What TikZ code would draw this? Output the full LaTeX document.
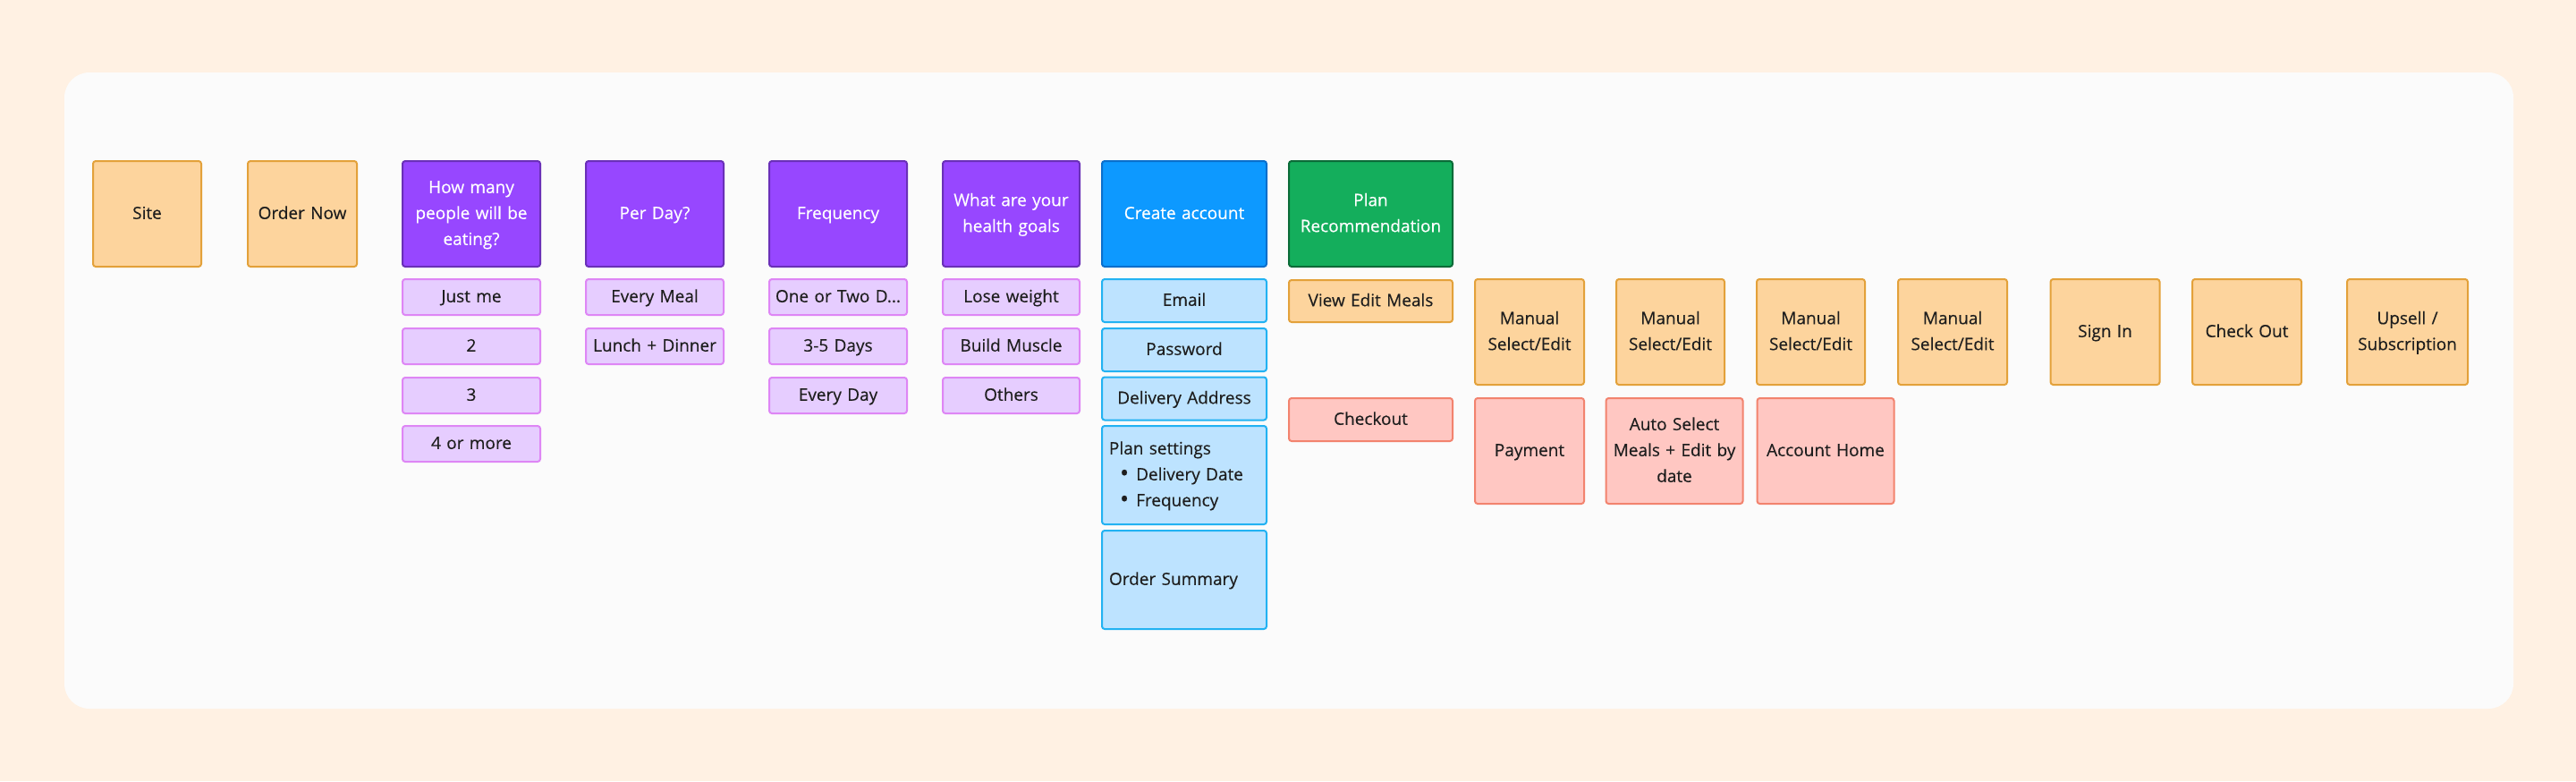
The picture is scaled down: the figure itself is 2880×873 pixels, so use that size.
\documentclass[tikz,border=0pt]{standalone}
\usepackage{fontspec}
\setmainfont{Open Sans}[FakeBold=0.25]
\definecolor{bgc}{HTML}{FFF1E3}
\definecolor{panelc}{HTML}{FBFBFB}
\definecolor{orF}{HTML}{FDD49D}
\definecolor{orD}{HTML}{E3A13A}
\definecolor{puF}{HTML}{9747FF}
\definecolor{puD}{HTML}{6A30B8}
\definecolor{lpF}{HTML}{E6CDFF}
\definecolor{lpD}{HTML}{DE86F5}
\definecolor{blF}{HTML}{0D99FF}
\definecolor{blD}{HTML}{0A6FCC}
\definecolor{lbF}{HTML}{BDE3FF}
\definecolor{lbD}{HTML}{22B2F2}
\definecolor{grF}{HTML}{14AE5C}
\definecolor{grD}{HTML}{0B6B38}
\definecolor{rdF}{HTML}{FFC7C2}
\definecolor{rdD}{HTML}{F2836E}
\definecolor{txt}{HTML}{1E1E1E}
\newcommand{\bigbul}{\hspace*{12pt}\raisebox{-1.2pt}{\fontsize{27}{29}\selectfont\textbullet}\hspace{8pt}}
\tikzset{
  box/.style={rectangle, rounded corners=3pt, line width=2pt, inner sep=2pt,
    align=center, font=\fontsize{19}{29}\selectfont, text=txt,
    execute at begin node={\strut}, execute at end node={\strut}},
  orbox/.style={box, fill=orF, draw=orD},
  pubox/.style={box, fill=puF, draw=puD, text=white},
  lpbox/.style={box, fill=lpF, draw=lpD},
  blbox/.style={box, fill=blF, draw=blD, text=white},
  lbbox/.style={box, fill=lbF, draw=lbD},
  grbox/.style={box, fill=grF, draw=grD, text=white},
  rdbox/.style={box, fill=rdF, draw=rdD},
  sz/.style 2 args={minimum width=#1pt, minimum height=#2pt, text width=#1pt-8pt}
}
\begin{document}
\begin{tikzpicture}[x=1pt,y=-1pt]
\fill[bgc] (0,0) rectangle (2880,873);
\useasboundingbox (0,0) rectangle (2880,873);
\fill[panelc, rounded corners=28pt] (72,81) rectangle (2810,792);

% top row
\node[orbox, sz={121}{118}] (site) at (164.5,239) {Site};
\node[orbox, sz={122}{118}] (ordernow) at (338,239) {Order Now};
\node[pubox, sz={154}{118}] (howmany) at (527,239) {How many\\people will be\\eating?};
\node[pubox, sz={154}{118}] (perday) at (732,239) {Per Day?};
\node[pubox, sz={154}{118}] (freq) at (937,239) {Frequency};
\node[pubox, sz={153}{118}] (health) at (1130.5,239) {What are your\\health goals};
\node[blbox, sz={184}{118}] (create) at (1324,239) {Create account};
\node[grbox, sz={183}{118}] (planrec) at (1532.5,239) {Plan\\Recommendation};

% people
\node[lpbox, sz={154}{40}] (justme) at (527,332) {Just me};
\node[lpbox, sz={154}{40}] (two) at (527,387) {2};
\node[lpbox, sz={154}{40}] (three) at (527,442) {3};
\node[lpbox, sz={154}{40}] (four) at (527,496) {4 or more};

% per day
\node[lpbox, sz={154}{40}] (everymeal) at (732,332) {Every Meal};
\node[lpbox, sz={154}{40}] (lunch) at (732,387) {Lunch + Dinner};

% frequency
\node[lpbox, sz={154}{40}] (onetwo) at (937,332) {One or Two D...};
\node[lpbox, sz={154}{40}] (threefive) at (937,387) {3-5 Days};
\node[lpbox, sz={154}{40}] (everyday) at (937,442) {Every Day};

% health
\node[lpbox, sz={153}{40}] (lose) at (1130.5,332) {Lose weight};
\node[lpbox, sz={153}{40}] (build) at (1130.5,387) {Build Muscle};
\node[lpbox, sz={153}{40}] (others) at (1130.5,442) {Others};

% account
\node[lbbox, sz={184}{48}] (email) at (1324,336) {Email};
\node[lbbox, sz={184}{48}] (password) at (1324,391) {Password};
\node[lbbox, sz={184}{48}] (address) at (1324,445.5) {Delivery Address};
\node[lbbox, sz={184}{110}, align=left, text width=168pt] (plansettings) at (1324,531)
  {Plan settings\\\bigbul Delivery Date\\\bigbul Frequency};
\node[lbbox, sz={184}{110}, align=left, text width=168pt] (summary) at (1324,648) {Order Summary};

% plan recommendation column
\node[orbox, sz={183}{47}] (viewedit) at (1532.5,336.5) {View Edit Meals};
\node[rdbox, sz={183}{48}] (checkout) at (1532.5,469) {Checkout};

% manual row
\node[orbox, sz={122}{118}] (man1) at (1710,371) {Manual\\Select/Edit};
\node[orbox, sz={121}{118}] (man2) at (1867.5,371) {Manual\\Select/Edit};
\node[orbox, sz={121}{118}] (man3) at (2024.5,371) {Manual\\Select/Edit};
\node[orbox, sz={122}{118}] (man4) at (2183,371) {Manual\\Select/Edit};
\node[orbox, sz={122}{118}] (signin) at (2353.5,371) {Sign In};
\node[orbox, sz={122}{118}] (checkout2) at (2512,371) {Check Out};
\node[orbox, sz={135}{118}] (upsell) at (2691.5,371) {Upsell /\\Subscription};

% red row
\node[rdbox, sz={122}{118}] (payment) at (1710,504) {Payment};
\node[rdbox, sz={153}{118}] (autosel) at (1872,504) {Auto Select\\Meals + Edit by\\date};
\node[rdbox, sz={153}{118}] (accthome) at (2041,504) {Account Home};
\end{tikzpicture}
\end{document}
